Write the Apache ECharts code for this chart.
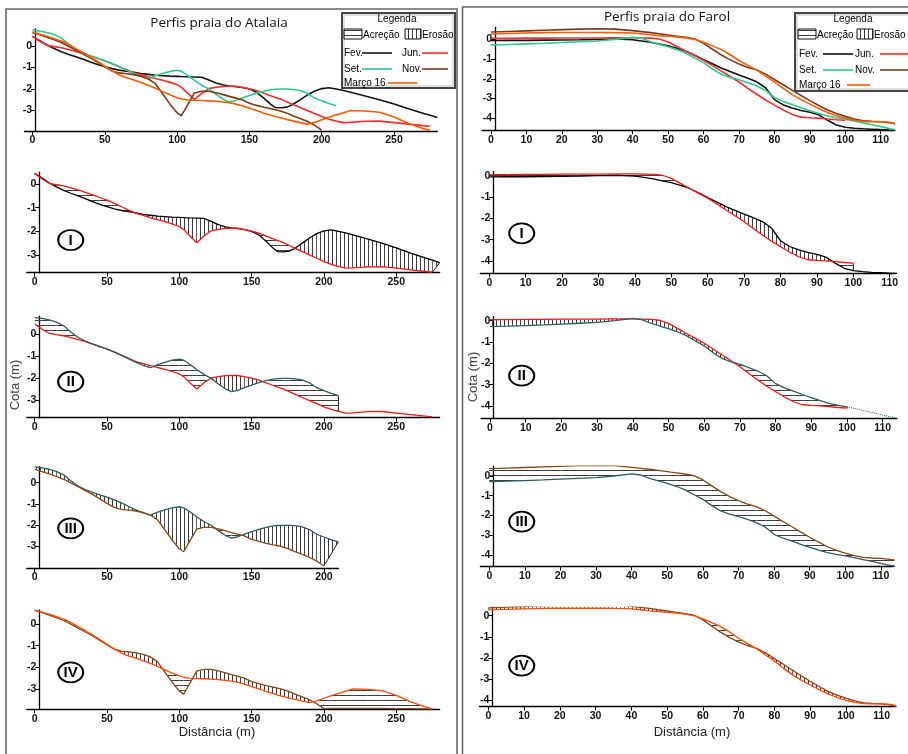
<!DOCTYPE html>
<html><head><meta charset="utf-8">
<script src="https://cdn.jsdelivr.net/npm/echarts@6/dist/echarts.min.js"></script>
<style>html,body{margin:0;padding:0;background:#fff}#c{width:908px;height:754px}</style>
</head><body><div id="c"></div>
<script>
// ---------- DATA: Praia do Atalaia (distance m, cota m) ----------
const xAtalaia = [0,5,10,15,20,25,30,35,40,45,50,55,60,65,70,75,80,85,90,95,100,103,107,112,117,122,127,132,136,140,145,150,155,160,165,168,172,176,180,185,190,195,200,205,210,215,220,230,240,250,260,270,275,280];
const atalaiaFev = [0.45,0.25,0.05,-0.12,-0.27,-0.39,-0.5,-0.62,-0.74,-0.86,-0.96,
  -1.05,-1.12,-1.17,-1.22,-1.28,-1.32,-1.36,-1.38,-1.4,-1.41,
  -1.42,-1.43,-1.44,-1.45,-1.58,-1.72,-1.81,-1.86,-1.88,
  -1.93,-2.0,-2.15,-2.42,-2.72,-2.86,-2.87,-2.84,
  -2.72,-2.5,-2.28,-2.1,-1.98,-1.94,-2.0,-2.07,-2.15,
  -2.32,-2.5,-2.7,-2.92,-3.12,-3.22,-3.32];
const atalaiaJun = [0.45,0.22,0.03,-0.03,-0.08,-0.16,-0.25,-0.35,-0.46,-0.57,-0.68,
  -0.82,-0.96,-1.1,-1.24,-1.33,-1.43,-1.51,-1.59,-1.69,-1.8,
  -1.92,-2.18,-2.48,-2.2,-1.98,-1.92,-1.88,-1.87,-1.87,
  -1.92,-1.99,-2.08,-2.2,-2.32,-2.39,-2.48,-2.6,
  -2.72,-2.86,-3.0,-3.14,-3.28,-3.4,-3.49,-3.56,-3.55,
  -3.5,-3.49,-3.56,-3.63,-3.7,-3.73,null];
const atalaiaSet = [0.74,0.7,0.63,0.53,0.37,0.09,-0.16,-0.32,-0.45,-0.57,-0.68,
  -0.81,-0.95,-1.12,-1.28,-1.42,-1.52,-1.38,-1.28,-1.18,-1.13,
  -1.18,-1.35,-1.6,-1.82,-2.0,-2.25,-2.48,-2.6,-2.55,
  -2.42,-2.3,-2.19,-2.1,-2.03,-2.01,-2.0,-2.0,
  -2.02,-2.07,-2.2,-2.42,-2.55,-2.67,-2.78,null,null,
  null,null,null,null,null,null,null];
const atalaiaNov = [0.63,0.52,0.41,0.29,0.16,-0.01,-0.19,-0.37,-0.55,-0.76,-0.97,
  -1.16,-1.25,-1.29,-1.33,-1.4,-1.52,-1.75,-2.22,-2.69,-3.1,
  -3.24,-2.77,-2.18,-2.1,-2.1,-2.17,-2.26,-2.34,-2.41,
  -2.5,-2.66,-2.76,-2.85,-2.92,-2.96,-3.03,-3.12,
  -3.24,-3.37,-3.5,-3.68,-3.91,null,null,null,null,
  null,null,null,null,null,null,null];
// Nov. base line drawn along the bottom in panel IV (x = 205 ... 280)
const atalaiaNovTail = [-3.9,-3.9,-3.9,-3.9,-3.9,-3.9,-3.91,-3.91,-3.92,-3.92,null];
const atalaiaMar = [0.65,0.55,0.45,0.34,0.23,0.07,-0.12,-0.31,-0.51,-0.72,-0.94,
  -1.15,-1.35,-1.48,-1.58,-1.7,-1.82,-1.96,-2.12,-2.27,-2.4,
  -2.46,-2.5,-2.52,-2.53,-2.55,-2.57,-2.6,-2.64,-2.69,
  -2.78,-2.89,-3.0,-3.12,-3.22,-3.28,-3.35,-3.42,
  -3.48,-3.56,-3.63,-3.55,-3.43,-3.31,-3.2,-3.1,-3.0,
  -3.02,-3.08,-3.3,-3.6,-3.83,-3.92,null];

// ---------- DATA: Praia do Farol ----------
const xFarol = [0,5,10,15,20,25,30,35,40,42.5,45,47.5,50,52.5,55,57.5,60,62.5,65,67.5,70,72.5,75,77.5,80,82.5,85,87.5,90,92.5,95,97.5,100,102.5,105,107.5,110,112.5,114];
const farolFev = [-0.06,-0.05,-0.05,-0.04,-0.03,-0.02,0.0,0.02,-0.02,
  -0.08,-0.15,-0.24,-0.33,-0.45,-0.6,-0.8,-1.03,-1.24,-1.45,
  -1.63,-1.8,-1.97,-2.15,-2.45,-3.05,-3.32,-3.48,-3.6,-3.69,
  -3.82,-4.1,-4.34,-4.45,-4.5,-4.53,-4.55,-4.57,-4.58,null];
const farolJun = [0.05,0.05,0.06,0.06,0.07,0.07,0.07,0.08,0.08,
  0.07,0.06,0.02,-0.13,-0.36,-0.6,-0.83,-1.06,-1.33,-1.61,
  -1.88,-2.16,-2.48,-2.78,-3.07,-3.33,-3.58,-3.8,-3.94,-3.97,
  -3.99,-4.03,-4.07,-4.1,null,null,null,null,null,null];
const farolSet = [-0.28,-0.26,-0.23,-0.2,-0.16,-0.12,-0.08,0.0,0.11,
  0.05,-0.12,-0.25,-0.37,-0.52,-0.7,-0.95,-1.18,-1.5,-1.77,
  -1.93,-2.05,-2.2,-2.36,-2.58,-2.95,-3.15,-3.3,-3.46,-3.61,
  -3.75,-3.88,-3.97,-4.04,-4.13,-4.23,-4.32,-4.42,-4.52,-4.58];
const farolNov = [0.37,0.4,0.43,0.46,0.49,0.52,0.54,0.52,0.44,
  0.39,0.34,0.28,0.22,0.16,0.1,0.02,-0.2,-0.5,-0.79,
  -1.04,-1.25,-1.42,-1.55,-1.76,-2.03,-2.3,-2.57,-2.84,-3.1,
  -3.35,-3.58,-3.76,-3.9,-4.03,-4.12,-4.15,-4.17,-4.22,-4.26];
const farolMar = [0.27,0.3,0.32,0.34,0.35,0.35,0.35,0.34,0.32,
  0.28,0.23,0.19,0.16,0.12,0.07,0.0,-0.15,-0.33,-0.52,
  -0.78,-1.07,-1.32,-1.56,-1.86,-2.15,-2.48,-2.8,-3.05,-3.28,
  -3.5,-3.7,-3.87,-4.0,-4.1,-4.16,-4.17,-4.17,-4.2,-4.28];

// ---------- tick labels ----------
const atalaiaXTicks = [0,50,100,150,200,250];
const atalaiaYTicks = [-3,-2,-1,0];
const farolXTicks = [0,10,20,30,40,50,60,70,80,90,100,110];
const farolYTicks = [-4,-3,-2,-1,0];
const panelLabels = ['I','II','III','IV'];
const legendNames = ['Fev.','Jun.','Set.','Nov.','Março 16'];

// ---------- styles ----------
const COL = {fev:'#000000', jun:'#ff1414', set:'#2e5d5d', nov:'#8b4513', mar:'#ff4a0a'};
const COLTOP = {fev:'#111111', jun:'#ff2a2a', set:'#2cc98c', nov:'#7a3a1c', mar:'#ff5a00'};
const FONT = '"Liberation Sans", Arial, sans-serif';

function makePat(dir){
  const c = document.createElement('canvas');
  if (dir === 'h') { c.width = 6; c.height = 5; } else { c.width = 4; c.height = 6; }
  const g = c.getContext('2d');
  g.fillStyle = '#3c3c3c';
  if (dir === 'h') g.fillRect(0, 0, 6, 1); else g.fillRect(0, 0, 1, 6);
  return {image: c, repeat: 'repeat'};
}
const PAT_H = makePat('h'), PAT_V = makePat('v');

// grid geometry: [left, top, width, height, xmin, xmax, ymin, ymax, yAxisOffset, xTicks, yTicks]
const G = [
  [24.5, 28.8, 412.9, 102.2, -5.5, 280, -3.95, 0.8, -10.5, atalaiaXTicks, atalaiaYTicks],
  [26.75, 172.2, 412.9, 100.5, -5.5, 280, -3.75, 0.5, -12.5, atalaiaXTicks, atalaiaYTicks],
  [26.75, 316.2, 412.9, 101.5, -5.5, 280, -3.77, 0.8, -12.5, atalaiaXTicks, atalaiaYTicks],
  [26.75, 466.7, 311.6, 101.2, -5.5, 210, -4.0, 0.75, -12.5, atalaiaXTicks, atalaiaYTicks],
  [26.75, 609.9, 412.9, 99.4, -5.5, 280, -3.94, 0.65, -12.5, atalaiaXTicks, atalaiaYTicks],
  [482.1, 27.5, 412.8, 102.7, -2.5, 114, -4.6, 0.6, -12.9, farolXTicks, farolYTicks],
  [480.2, 171.4, 415.0, 102.0, -2.5, 111.5, -4.58, 0.2, -13.1, farolXTicks, farolYTicks],
  [481.1, 316.4, 415.9, 102.0, -2.5, 114, -4.58, 0.2, -12.2, farolXTicks, farolYTicks],
  [480.4, 466.1, 413.0, 100.4, -2.5, 113.5, -4.58, 0.5, -12.9, farolXTicks, farolYTicks],
  [479.4, 607.2, 416.6, 99.4, -2.5, 114, -4.3, 0.4, -12.9, farolXTicks, farolYTicks]
];

const grids = [], xAxes = [], yAxes = [];
G.forEach((g, i) => {
  grids.push({left: g[0], top: g[1], width: g[2], height: g[3], containLabel: false, outerBoundsMode: 'none'});
  const lab = {fontSize: 10.5, fontWeight: 'bold', color: '#111', fontFamily: FONT};
  xAxes.push({type: 'value', gridIndex: i, min: g[4], max: g[5],
    axisLine: {show: true, onZero: false, lineStyle: {color: '#000', width: 1.3}},
    axisTick: {show: true, length: 4, customValues: g[9], lineStyle: {color: '#000'}},
    axisLabel: Object.assign({customValues: g[9], margin: 4}, lab),
    splitLine: {show: false}});
  yAxes.push({type: 'value', gridIndex: i, min: g[6], max: g[7], offset: g[8],
    axisLine: {show: true, onZero: false, lineStyle: {color: '#000', width: 1.3}},
    axisTick: {show: true, length: 4, customValues: g[10], lineStyle: {color: '#000'}},
    axisLabel: Object.assign({customValues: g[10], margin: 3}, lab),
    splitLine: {show: false}});
});

function pts(xs, ys){ return xs.map((x, i) => [x, ys[i] == null ? null : ys[i]]); }
function line(gi, xs, ys, color, width, extra){
  return Object.assign({type: 'line', xAxisIndex: gi, yAxisIndex: gi, data: pts(xs, ys),
    showSymbol: false, symbol: 'none', silent: true, z: 3, clip: true,
    lineStyle: {color: color, width: width}, itemStyle: {color: color}}, extra || {});
}
// hatched band between profile A (earlier) and B (later); tail = number of extra A points closed onto B's last point
function hatch(gi, xs, A, B, tail){
  const data = [];
  let last = -1;
  for (let j = 0; j < xs.length - 1; j++) {
    if ([A[j], A[j+1], B[j], B[j+1]].some(v => v == null)) continue;
    data.push([xs[j], A[j], B[j], xs[j+1], A[j+1], B[j+1]]);
    last = j + 1;
  }
  const n = data.length;
  const tailPts = [];
  if (tail && last >= 0) {
    for (let k = last + 1; k <= last + tail && k < xs.length; k++) if (A[k] != null) tailPts.push([xs[k], A[k]]);
  }
  return {type: 'custom', xAxisIndex: gi, yAxisIndex: gi, clip: true, silent: true, z: 2,
    encode: {x: [0, 3], y: [1, 2, 4, 5]}, data: data,
    renderItem: function(params, api){
      const x0 = api.value(0), a0 = api.value(1), b0 = api.value(2);
      const x1 = api.value(3), a1 = api.value(4), b1 = api.value(5);
      const P = (x, y) => api.coord([x, y]);
      const d0 = b0 - a0, d1 = b1 - a1;
      const ch = [];
      const poly = (p, d) => { if (Math.abs(d) < 1e-9) return;
        ch.push({type: 'polygon', shape: {points: p}, style: {fill: d > 0 ? PAT_H : PAT_V, stroke: null}}); };
      if (d0 * d1 >= 0) {
        poly([P(x0, a0), P(x1, a1), P(x1, b1), P(x0, b0)], d0 + d1);
      } else {
        const t = d0 / (d0 - d1);
        const xc = x0 + t * (x1 - x0), yc = a0 + t * (a1 - a0);
        poly([P(x0, a0), P(xc, yc), P(x0, b0)], d0);
        poly([P(xc, yc), P(x1, a1), P(x1, b1)], d1);
      }
      if (params.dataIndex === n - 1) {
        if (tailPts.length) {
          const pp = [P(x1, a1)].concat(tailPts.map(q => P(q[0], q[1]))).concat([P(x1, b1)]);
          poly(pp, d1);
          const e1 = P(x1, b1), e2 = pp[pp.length - 2];
          ch.push({type: 'line', shape: {x1: e1[0], y1: e1[1], x2: e2[0], y2: e2[1]}, style: {stroke: '#222', lineWidth: 1}});
        } else if (Math.abs(d1) > 0.05) {
          const p1 = P(x1, a1), p2 = P(x1, b1);
          ch.push({type: 'line', shape: {x1: p1[0], y1: p1[1], x2: p2[0], y2: p2[1]}, style: {stroke: '#222', lineWidth: 1}});
        }
      }
      return {type: 'group', children: ch};
    }};
}

const series = [];
// top panels: all profiles
const atalaiaAll = [atalaiaFev, atalaiaJun, atalaiaSet, atalaiaNov, atalaiaMar];
const farolAll = [farolFev, farolJun, farolSet, farolNov, farolMar];
const keys = ['fev','jun','set','nov','mar'];
atalaiaAll.forEach((ys, k) => series.push(line(0, xAtalaia, ys, COLTOP[keys[k]], 1.6)));
farolAll.forEach((ys, k) => series.push(line(5, xFarol, ys, COLTOP[keys[k]], 1.6)));

const novPanelIV = atalaiaNov.slice(0, xAtalaia.indexOf(200) + 1).concat(atalaiaNovTail);

// comparison panels (earlier profile A, later profile B, tail points)
const pairsA = [
  [1, atalaiaFev, atalaiaJun, 'fev', 'jun', 1],
  [2, atalaiaJun, atalaiaSet, 'jun', 'set', 0],
  [3, atalaiaSet, atalaiaNov, 'set', 'nov', 2],
  [4, novPanelIV, atalaiaMar, 'nov', 'mar', 0]
];
pairsA.forEach(p => {
  series.push(hatch(p[0], xAtalaia, p[1], p[2], p[5]));
  series.push(line(p[0], xAtalaia, p[1], COL[p[3]], 1.3));
  series.push(line(p[0], xAtalaia, p[2], COL[p[4]], 1.3));
});
const pairsF = [
  [6, farolFev, farolJun, 'fev', 'jun'],
  [7, farolJun, farolSet, 'jun', 'set'],
  [8, farolSet, farolNov, 'set', 'nov'],
  [9, farolNov, farolMar, 'nov', 'mar']
];
pairsF.forEach(p => {
  series.push(hatch(p[0], xFarol, p[1], p[2], 0));
  if (p[0] === 7) {
    const cut = xFarol.indexOf(100);
    series.push(line(7, xFarol, p[1], COL.jun, 1.3));
    series.push(line(7, xFarol, p[2].map((v, i) => i <= cut ? v : null), COL.set, 1.3));
    series.push(line(7, xFarol, p[2].map((v, i) => i >= cut ? v : null), COL.set, 1, {lineStyle: {color: COL.set, width: 1, type: 'dotted'}}));
  } else {
    series.push(line(p[0], xFarol, p[1], COL[p[3]], 1.3));
    series.push(line(p[0], xFarol, p[2], COL[p[4]], 1.3));
  }
});

// ---------- graphic: frames, titles, legends, labels ----------
const gfx = [];
gfx.push({type: 'rect', shape: {x: 6, y: 9, width: 451, height: 770}, style: {fill: null, stroke: '#666', lineWidth: 1.6}, silent: true, z: 50});
gfx.push({type: 'rect', shape: {x: 462.5, y: 7, width: 470, height: 770}, style: {fill: null, stroke: '#666', lineWidth: 1.6}, silent: true, z: 50});
function text(t, x, y, font, opt){
  return Object.assign({type: 'text', x: x, y: y, silent: true, z: 60,
    style: Object.assign({text: t, fill: '#000', font: font, textAlign: 'left', textVerticalAlign: 'middle'}, (opt && opt.style) || {})},
    (opt && opt.el) || {});
}
gfx.push(text('Perfis praia do Atalaia', 219, 23, '13.5px "Open Sans", sans-serif', {style: {textAlign: 'center', fill: '#111'}}));
gfx.push(text('Perfis praia do Farol', 667, 17, '13.5px "Open Sans", sans-serif', {style: {textAlign: 'center', fill: '#111'}}));

function legend(L){
  const lf = '10px ' + FONT;
  gfx.push({type: 'rect', shape: {x: L.x, y: L.y, width: L.w, height: L.h}, style: {fill: '#fff', stroke: '#444', lineWidth: 2}, silent: true, z: 55});
  gfx.push({type: 'rect', shape: {x: L.x + 2, y: L.y + 2, width: L.w - 4, height: L.h - 4}, style: {fill: null, stroke: '#999', lineWidth: 0.6}, silent: true, z: 56});
  gfx.push(text('Legenda', L.x + L.cx, L.y + 6, lf, {style: {textAlign: 'center'}}));
  gfx.push({type: 'rect', shape: {x: L.x + L.ai, y: L.y + 16, width: 18, height: 10}, style: {fill: PAT_H, stroke: '#111', lineWidth: 1}, silent: true, z: 60});
  gfx.push(text('Acreção', L.x + L.ai + 19, L.y + 22, lf));
  gfx.push({type: 'rect', shape: {x: L.x + L.ei, y: L.y + 16, width: 16, height: 10}, style: {fill: PAT_V, stroke: '#111', lineWidth: 1}, silent: true, z: 60});
  gfx.push(text('Erosão', L.x + L.ei + 17, L.y + 22, lf));
  const rows = [[0, L.c1, L.r1, L.l1], [1, L.c2, L.r1, L.l2], [2, L.c1, L.r2, L.l1], [3, L.c2, L.r2, L.l2], [4, L.c1, L.r3, L.l3]];
  rows.forEach(r => {
    gfx.push(text(legendNames[r[0]], L.x + r[1], L.y + r[2], lf));
    gfx.push({type: 'line', shape: {x1: L.x + r[3][0], y1: L.y + r[2], x2: L.x + r[3][1], y2: L.y + r[2]},
      style: {stroke: COLTOP[keys[r[0]]], lineWidth: 1.6}, silent: true, z: 60});
  });
}
legend({x: 342, y: 13, w: 113, h: 75, cx: 55, ai: 2, ei: 63, c1: 2, c2: 60, r1: 40, r2: 56, r3: 70, l1: [20, 50], l2: [80, 106], l3: [46, 75]});
legend({x: 795, y: 13, w: 116, h: 78, cx: 58, ai: 3, ei: 62, c1: 4, c2: 60, r1: 41, r2: 57, r3: 72, l1: [28, 58], l2: [85, 113], l3: [52, 75]});

// circled panel numbers
const circleCenters = [[70.7, 240], [70.7, 381.7], [70.7, 528.3], [70.7, 672.3], [521.7, 233.3], [521.7, 375.7], [521.7, 521.7], [521.7, 665.7]];
circleCenters.forEach((c, i) => {
  gfx.push({type: 'circle', x: c[0], y: c[1], scaleX: 1.25, shape: {cx: 0, cy: 0, r: 10},
    style: {fill: '#fff', stroke: '#000', lineWidth: 1.7, strokeNoScale: true}, silent: true, z: 58});
  gfx.push(text(panelLabels[i % 4], c[0], c[1] + 0.5, 'bold 15px "Liberation Sans Narrow", "Liberation Sans", sans-serif', {style: {textAlign: 'center'}}));
});

// axis titles
gfx.push(text('Cota (m)', 15, 385, '13px ' + FONT, {style: {textAlign: 'center', fill: '#444'}, el: {rotation: Math.PI / 2}}));
gfx.push(text('Cota (m)', 473, 377, '13px ' + FONT, {style: {textAlign: 'center', fill: '#444'}, el: {rotation: Math.PI / 2}}));
gfx.push(text('Distância (m)', 217, 732, '13px ' + FONT, {style: {textAlign: 'center', fill: '#222'}}));
gfx.push(text('Distância (m)', 692, 732, '13px ' + FONT, {style: {textAlign: 'center', fill: '#222'}}));

const chart = echarts.init(document.getElementById('c'), null, {renderer: 'canvas'});
chart.setOption({
  animation: false,
  backgroundColor: '#fff',
  grid: grids, xAxis: xAxes, yAxis: yAxes,
  series: series,
  graphic: {elements: gfx}
});
</script></body></html>
